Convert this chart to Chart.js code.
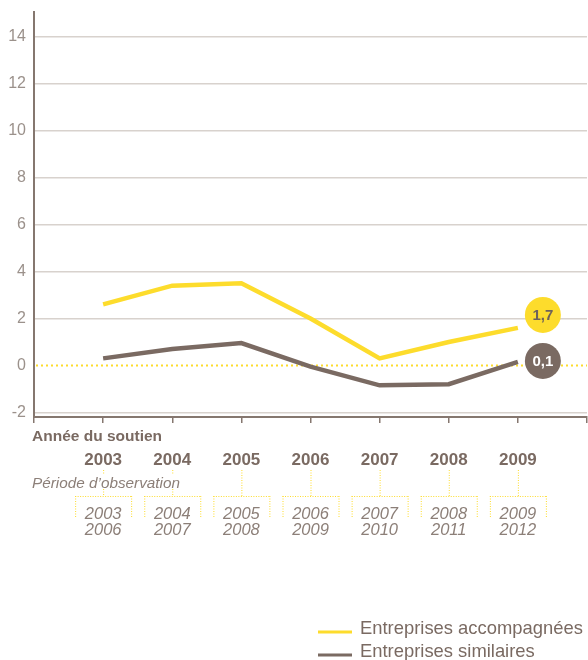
<!DOCTYPE html>
<html>
<head>
<meta charset="utf-8">
<script src="https://cdn.jsdelivr.net/npm/chart.js@4.4.0/dist/chart.umd.min.js"></script>
<style>
  html, body { margin: 0; padding: 0; background: #fff; }
  #wrap { width: 588px; height: 660px; position: relative; }
</style>
</head>
<body>
<div id="wrap"><canvas id="chart"></canvas></div>
<script>
// Data
const years = [2003, 2004, 2005, 2006, 2007, 2008, 2009];
const accompagnees = [2.6, 3.4, 3.5, 2.0, 0.3, 1.0, 1.6];
const similaires = [0.3, 0.7, 0.95, -0.05, -0.85, -0.8, 0.15];
const endLabels = ['1,7', '0,1'];
const periodStart = ['2003', '2004', '2005', '2006', '2007', '2008', '2009'];
const periodEnd = ['2006', '2007', '2008', '2009', '2010', '2011', '2012'];
const yTicks = [-2, 0, 2, 4, 6, 8, 10, 12, 14];
const seriesNames = ['Entreprises accompagnées', 'Entreprises similaires'];

const YELLOW = '#fddc2c';
const BROWN = '#7a6a62';
const GRID = '#d8d2cd';
const AXIS = '#85776f';
const TEXT = '#7a6a62';
const FONT = '"Liberation Sans", Arial, sans-serif';

function toPoints(arr) {
    return years.map((y, i) => ({ x: y, y: arr[i] }));
}

// end-of-line value bubbles
const bubblePlugin = {
    id: 'bubbles',
    afterDatasetsDraw(chart) {
        const ctx = chart.ctx;
        const offsets = [[25, -13], [25, -1]];
        const fills = [YELLOW, BROWN];
        const inks = ['#6e625b', '#ffffff'];
        chart.data.datasets.forEach((ds, i) => {
            const meta = chart.getDatasetMeta(i);
            const pt = meta.data[meta.data.length - 1];
            const cx = pt.x + offsets[i][0];
            const cy = pt.y + offsets[i][1];
            ctx.save();
            ctx.beginPath();
            ctx.arc(cx, cy, 18, 0, Math.PI * 2);
            ctx.fillStyle = fills[i];
            ctx.fill();
            ctx.fillStyle = inks[i];
            ctx.font = 'bold 15px ' + FONT;
            ctx.textAlign = 'center';
            ctx.textBaseline = 'middle';
            ctx.fillText(endLabels[i], cx, cy + 1);
            ctx.restore();
        });
    }
};

// dotted zero line
const zeroLinePlugin = {
    id: 'zeroLine',
    beforeDatasetsDraw(chart) {
        const ctx = chart.ctx;
        const area = chart.chartArea;
        const y = chart.scales.y.getPixelForValue(0);
        ctx.save();
        ctx.strokeStyle = YELLOW;
        ctx.lineWidth = 2;
        ctx.setLineDash([2, 3]);
        ctx.beginPath();
        ctx.moveTo(area.left + 2, y);
        ctx.lineTo(area.right, y);
        ctx.stroke();
        ctx.restore();
    }
};

// labels under the axis + legend
const bottomPlugin = {
    id: 'bottom',
    afterDraw(chart) {
        const ctx = chart.ctx;
        const xs = chart.scales.x;
        ctx.save();
        ctx.fillStyle = TEXT;
        ctx.textBaseline = 'middle';

        ctx.font = 'bold 15.5px ' + FONT;
        ctx.textAlign = 'left';
        ctx.fillText('Année du soutien', 32, 437);

        ctx.font = 'italic 15.3px ' + FONT;
        ctx.fillStyle = '#8c7f78';
        const obs = 'Période d’observation';
        ctx.fillText(obs, 32, 484);
        const obsEnd = 32 + ctx.measureText(obs).width;

        ctx.textAlign = 'center';
        years.forEach((yr, i) => {
            const x = xs.getPixelForValue(yr);
            ctx.fillStyle = TEXT;
            ctx.font = 'bold 17px ' + FONT;
            ctx.fillText(String(yr), x, 460);

            ctx.font = 'italic 16.5px ' + FONT;
            ctx.fillStyle = '#8c7f78';
            ctx.fillText(periodStart[i], x, 514);
            ctx.fillText(periodEnd[i], x, 530);

            // dotted connector + bracket
            ctx.strokeStyle = YELLOW;
            ctx.lineWidth = 1;
            ctx.setLineDash([1, 1.5]);
            ctx.beginPath();
            if (x < obsEnd) {
                ctx.moveTo(x + 0.5, 470); ctx.lineTo(x + 0.5, 475);
                ctx.moveTo(x + 0.5, 489); ctx.lineTo(x + 0.5, 496);
            } else {
                ctx.moveTo(x + 0.5, 470); ctx.lineTo(x + 0.5, 496);
            }
            ctx.moveTo(x - 28, 496.5); ctx.lineTo(x + 28, 496.5);
            ctx.moveTo(x - 28 + 0.5, 496); ctx.lineTo(x - 28 + 0.5, 517);
            ctx.moveTo(x + 28 + 0.5, 496); ctx.lineTo(x + 28 + 0.5, 517);
            ctx.stroke();
            ctx.setLineDash([]);
        });

        // legend
        const colors = [YELLOW, BROWN];
        const rows = [629, 652];
        ctx.textAlign = 'left';
        ctx.font = '18.4px ' + FONT;
        seriesNames.forEach((name, i) => {
            ctx.strokeStyle = colors[i];
            ctx.lineWidth = 3;
            ctx.beginPath();
            ctx.moveTo(318, rows[i] + 3);
            ctx.lineTo(352, rows[i] + 3);
            ctx.stroke();
            ctx.fillStyle = TEXT;
            ctx.fillText(name, 360, rows[i]);
        });
        ctx.restore();
    }
};

new Chart(document.getElementById('chart'), {
    type: 'line',
    data: {
        datasets: [{
            label: seriesNames[0],
            data: toPoints(accompagnees),
            borderColor: YELLOW,
            borderWidth: 4.5,
            pointRadius: 0,
            tension: 0
        }, {
            label: seriesNames[1],
            data: toPoints(similaires),
            borderColor: BROWN,
            borderWidth: 4.5,
            pointRadius: 0,
            tension: 0
        }]
    },
    options: {
        responsive: true,
        maintainAspectRatio: false,
        animation: false,
        layout: { padding: { top: 12, right: 1, bottom: 237, left: 0 } },
        plugins: {
            legend: { display: false },
            tooltip: { enabled: false }
        },
        scales: {
            x: {
                type: 'linear',
                min: 2002,
                max: 2010,
                ticks: { display: false, stepSize: 1 },
                grid: {
                    drawOnChartArea: false,
                    drawTicks: true,
                    tickLength: 6,
                    color: AXIS,
                    lineWidth: 1.5
                },
                border: { color: AXIS, width: 2 },
                afterFit(scale) {
                    scale.paddingLeft = 0;
                    scale.paddingRight = 0;
                }
            },
            y: {
                min: -2.2,
                max: 15.07,
                afterBuildTicks(scale) {
                    scale.ticks = yTicks.map(v => ({ value: v }));
                },
                afterFit(scale) {
                    scale.width = 34;
                    scale.paddingTop = 0;
                    scale.paddingBottom = 0;
                },
                ticks: {
                    color: '#9b918b',
                    padding: 8,
                    font: { family: FONT, size: 16 }
                },
                grid: {
                    drawTicks: false,
                    color: ctx => (ctx.tick && ctx.tick.value === 0) ? 'rgba(0,0,0,0)' : GRID,
                    lineWidth: 1.5
                },
                border: { color: AXIS, width: 2 }
            }
        }
    },
    plugins: [zeroLinePlugin, bubblePlugin, bottomPlugin]
});
</script>
</body>
</html>
